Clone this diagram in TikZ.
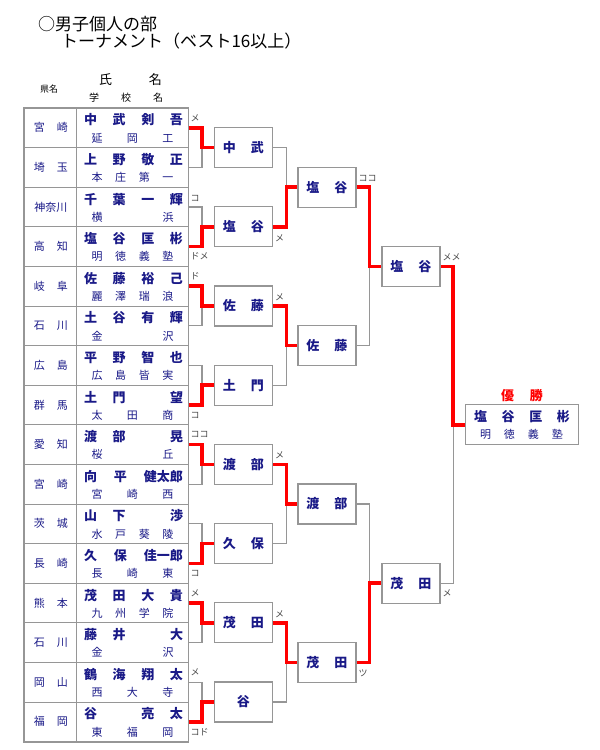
\documentclass[tikz,border=0pt]{standalone}
\usepackage{fontspec}
\setmainfont{Noto Sans CJK JP}
\usetikzlibrary{calc}
\definecolor{nameblue}{RGB}{25,25,135}
\definecolor{lg}{RGB}{150,150,150}
\definecolor{scg}{RGB}{70,70,70}
\tikzset{
  pcell/.style={draw=lg,line width=1pt,minimum width=52pt,minimum height=39.6pt,inner sep=0pt},
  ncell/.style={draw=lg,line width=1pt,minimum width=112pt,minimum height=39.6pt,inner sep=0pt},
  preftext/.style={inner sep=0pt,text=nameblue,font=\fontsize{11}{12}\selectfont},
  nametext/.style={inner sep=0pt,text=nameblue,font=\fontsize{13}{14}\selectfont\bfseries},
  schooltext/.style={inner sep=0pt,text=nameblue,font=\fontsize{11}{12}\selectfont},
  rbox/.style={draw=lg,line width=1.2pt,fill=white,minimum width=58pt,minimum height=40pt,inner sep=0pt,text=nameblue,font=\fontsize{13}{14}\selectfont\bfseries},
  win/.style={red,line width=3.5pt},
  lose/.style={lg,line width=1.2pt},
  sc/.style={inner sep=0pt,anchor=west,text=scg,font=\fontsize{9}{10}\selectfont},
}
\newcommand{\plrow}[4]{%
  \pgfmathsetmacro{\yc}{108+39.6*(#1+0.5)}%
  \node[pcell] (pf#1) at (50,\yc) {};
  \node[ncell] (r#1) at (132,\yc) {};
  \node[preftext] (pt#1) at (51,\yc) {\makebox[34pt][s]{#2}};
  \node[nametext] (n#1) at (133.5,\yc-7.8) {\makebox[99pt][s]{#3}};
  \node[schooltext] (s#1) at (132.5,\yc+10.2) {\makebox[82pt][s]{#4}};
}
\begin{document}
\begin{tikzpicture}[x=1pt,y=-1pt]
\useasboundingbox (0,0) rectangle (600,750);
% titles
\node[inner sep=0pt,anchor=west,font=\fontsize{17}{18}\selectfont] (t1) at (38,24) {○男子個人の部};
\node[inner sep=0pt,anchor=west,font=\fontsize{17}{18}\selectfont] (t2) at (61,41) {トーナメント（ベスト16以上）};
% headers
\node[inner sep=0pt,font=\fontsize{9}{10}\selectfont] (h1) at (49,89) {県名};
\node[inner sep=0pt,font=\fontsize{13}{14}\selectfont] (h2) at (130.5,80) {\makebox[63pt][s]{氏\hfill 名}};
\node[inner sep=0pt,font=\fontsize{10}{11}\selectfont] (h3) at (126,98) {\makebox[74pt][s]{学\hfill 校\hfill 名}};
% table
\plrow{0}{宮\hfill 崎}{中\hfill 武\hfill 剣\hfill 吾}{延\hfill 岡\hfill 工}
\plrow{1}{埼\hfill 玉}{上\hfill 野\hfill 敬\hfill 正}{本\hfill 庄\hfill 第\hfill 一}
\plrow{2}{\hfil 神奈川\hfil}{千\hfill 葉\hfill 一\hfill 輝}{横\hfill 浜}
\plrow{3}{高\hfill 知}{塩\hfill 谷\hfill 匡\hfill 彬}{明\hfill 徳\hfill 義\hfill 塾}
\plrow{4}{岐\hfill 阜}{佐\hfill 藤\hfill 裕\hfill 己}{麗\hfill 澤\hfill 瑞\hfill 浪}
\plrow{5}{石\hfill 川}{土\hfill 谷\hfill 有\hfill 輝}{金\hfill 沢}
\plrow{6}{広\hfill 島}{平\hfill 野\hfill 智\hfill 也}{広\hfill 島\hfill 皆\hfill 実}
\plrow{7}{群\hfill 馬}{土\hfill 門\hfill \phantom{望}\hfill 望}{太\hfill 田\hfill 商}
\plrow{8}{愛\hfill 知}{渡\hfill 部\hfill \phantom{晃}\hfill 晃}{桜\hfill 丘}
\plrow{9}{宮\hfill 崎}{向\hfill 平\hfill 健太郎}{宮\hfill 崎\hfill 西}
\plrow{10}{茨\hfill 城}{山\hfill 下\hfill \phantom{渉}\hfill 渉}{水\hfill 戸\hfill 葵\hfill 陵}
\plrow{11}{長\hfill 崎}{久\hfill 保\hfill 佳一郎}{長\hfill 崎\hfill 東}
\plrow{12}{熊\hfill 本}{茂\hfill 田\hfill 大\hfill 貴}{九\hfill 州\hfill 学\hfill 院}
\plrow{13}{石\hfill 川}{藤\hfill 井\hfill \phantom{大}\hfill 大}{金\hfill 沢}
\plrow{14}{岡\hfill 山}{鶴\hfill 海\hfill 翔\hfill 太}{西\hfill 大\hfill 寺}
\plrow{15}{福\hfill 岡}{谷\hfill \phantom{亮}\hfill 亮\hfill 太}{東\hfill 福\hfill 岡}
\draw[lg,line width=1.5pt] (pf0.north west) rectangle (r15.south east);
% round boxes
\node[rbox] (a0) at (243.3,{108+39.6*1}) {\makebox[41pt][s]{中\hfill 武}};
\node[rbox] (a1) at (243.3,{108+39.6*3}) {\makebox[41pt][s]{塩\hfill 谷}};
\node[rbox] (a2) at (243.3,{108+39.6*5}) {\makebox[41pt][s]{佐\hfill 藤}};
\node[rbox] (a3) at (243.3,{108+39.6*7}) {\makebox[41pt][s]{土\hfill 門}};
\node[rbox] (a4) at (243.3,{108+39.6*9}) {\makebox[41pt][s]{渡\hfill 部}};
\node[rbox] (a5) at (243.3,{108+39.6*11}) {\makebox[41pt][s]{久\hfill 保}};
\node[rbox] (a6) at (243.3,{108+39.6*13}) {\makebox[41pt][s]{茂\hfill 田}};
\node[rbox] (a7) at (243.3,{108+39.6*15}) {谷};
\node[rbox] (b0) at (326.9,{108+39.6*2}) {\makebox[41pt][s]{塩\hfill 谷}};
\node[rbox] (b1) at (326.9,{108+39.6*6}) {\makebox[41pt][s]{佐\hfill 藤}};
\node[rbox] (b2) at (326.9,{108+39.6*10}) {\makebox[41pt][s]{渡\hfill 部}};
\node[rbox] (b3) at (326.9,{108+39.6*14}) {\makebox[41pt][s]{茂\hfill 田}};
\node[rbox] (c0) at (410.9,{108+39.6*4}) {\makebox[41pt][s]{塩\hfill 谷}};
\node[rbox] (c1) at (410.9,{108+39.6*12}) {\makebox[41pt][s]{茂\hfill 田}};
\node[rbox,minimum width=112.6pt] (champ) at (522,424.8) {};
\node[nametext] (cn) at (522,416.7) {\makebox[96pt][s]{塩\hfill 谷\hfill 匡\hfill 彬}};
\node[schooltext] (cs) at (521.5,434) {\makebox[83pt][s]{明\hfill 徳\hfill 義\hfill 塾}};
\node[inner sep=0pt,text=red,font=\fontsize{13}{14}\selectfont\bfseries] (yu) at (522,396) {\makebox[42pt][s]{優\hfill 勝}};
% loser connectors
\draw[lose] (r1.east) -- ++(13.5,0) |- (a0.west);
\draw[lose] (r2.east) -- ++(13.5,0) |- (a1.west);
\draw[lose] (r5.east) -- ++(13.5,0) |- (a2.west);
\draw[lose] (r6.east) -- ++(13.5,0) |- (a3.west);
\draw[lose] (r9.east) -- ++(13.5,0) |- (a4.west);
\draw[lose] (r10.east) -- ++(13.5,0) |- (a5.west);
\draw[lose] (r13.east) -- ++(13.5,0) |- (a6.west);
\draw[lose] (r14.east) -- ++(13.5,0) |- (a7.west);
\draw[lose] (a0.east) -- ++(13.5,0) |- (b0.west);
\draw[lose] (a3.east) -- ++(13.5,0) |- (b1.west);
\draw[lose] (a5.east) -- ++(13.5,0) |- (b2.west);
\draw[lose] (a7.east) -- ++(13.5,0) |- (b3.west);
\draw[lose] (b1.east) -- ++(13,0) |- (c0.west);
\draw[lose] (b2.east) -- ++(13,0) |- (c1.west);
\draw[lose] (c1.east) -- ++(12.7,0) |- (champ.west);
% winner connectors
\draw[win] (r0.east) -- ++(13.5,0) |- (a0.west);
\draw[win] (r3.east) -- ++(13.5,0) |- (a1.west);
\draw[win] (r4.east) -- ++(13.5,0) |- (a2.west);
\draw[win] (r7.east) -- ++(13.5,0) |- (a3.west);
\draw[win] (r8.east) -- ++(13.5,0) |- (a4.west);
\draw[win] (r11.east) -- ++(13.5,0) |- (a5.west);
\draw[win] (r12.east) -- ++(13.5,0) |- (a6.west);
\draw[win] (r15.east) -- ++(13.5,0) |- (a7.west);
\draw[win] (a1.east) -- ++(13.5,0) |- (b0.west);
\draw[win] (a2.east) -- ++(13.5,0) |- (b1.west);
\draw[win] (a4.east) -- ++(13.5,0) |- (b2.west);
\draw[win] (a6.east) -- ++(13.5,0) |- (b3.west);
\draw[win] (b0.east) -- ++(13,0) |- (c0.west);
\draw[win] (b3.east) -- ++(13,0) |- (c1.west);
\draw[win] (c0.east) -- ++(12.7,0) |- (champ.west);
% score labels
\node[sc] (l0) at ([shift={(2,-10)}]r0.east) {メ};
\node[sc] (l2) at ([shift={(2,-9)}]r2.east) {コ};
\node[sc] (l3) at ([shift={(2,10)}]r3.east) {ドメ};
\node[sc] (l4) at ([shift={(2,-10)}]r4.east) {ド};
\node[sc] (l7) at ([shift={(2,10)}]r7.east) {コ};
\node[sc] (l8) at ([shift={(2,-10)}]r8.east) {ココ};
\node[sc] (l11) at ([shift={(2,10)}]r11.east) {コ};
\node[sc] (l12) at ([shift={(2,-10)}]r12.east) {メ};
\node[sc] (l14) at ([shift={(2,-10)}]r14.east) {メ};
\node[sc] (l15) at ([shift={(2,10)}]r15.east) {コド};
\node[sc] (m1) at ([shift={(2,11)}]a1.east) {メ};
\node[sc] (m2) at ([shift={(2,-9)}]a2.east) {メ};
\node[sc] (m4) at ([shift={(2,-9)}]a4.east) {メ};
\node[sc] (m6) at ([shift={(2,-9)}]a6.east) {メ};
\node[sc] (k0) at ([shift={(2,-9)}]b0.east) {ココ};
\node[sc] (k3) at ([shift={(2,11)}]b3.east) {ツ};
\node[sc] (q0) at ([shift={(2,-9)}]c0.east) {メメ};
\node[sc] (q1) at ([shift={(2,10)}]c1.east) {メ};
\end{tikzpicture}
\end{document}
